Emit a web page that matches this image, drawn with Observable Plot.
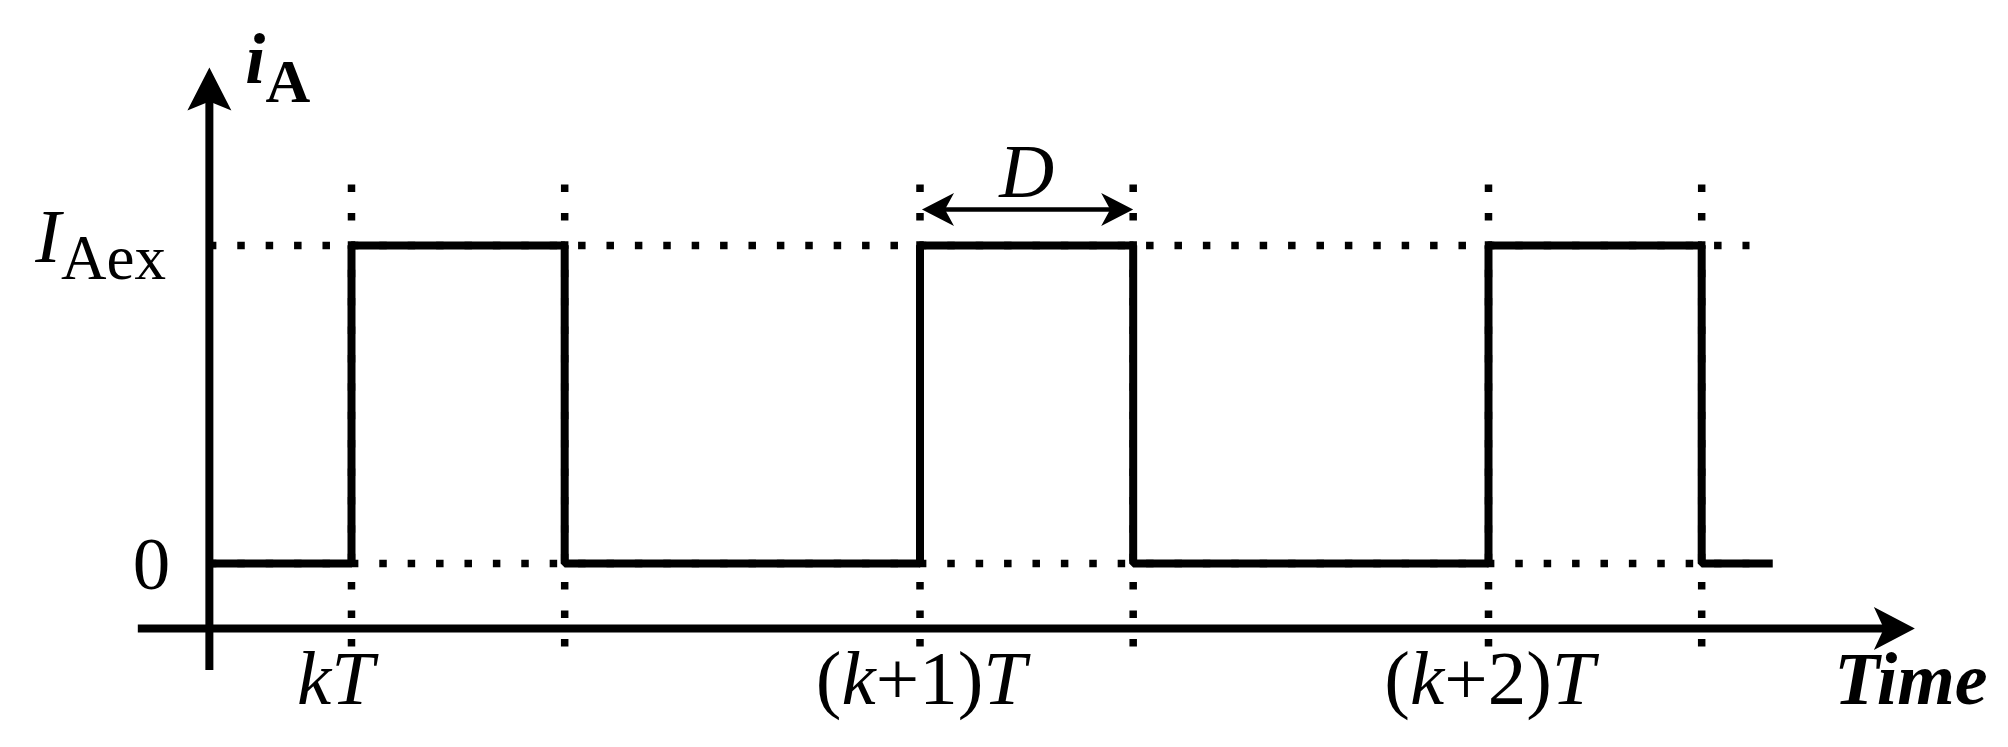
<!DOCTYPE html>
<html><head><meta charset="utf-8">
<script src="https://cdn.jsdelivr.net/npm/d3@7"></script>
<script src="https://cdn.jsdelivr.net/npm/@observablehq/plot@0.6"></script>
<style>html,body{margin:0;padding:0;background:#fff}svg{display:block}</style>
</head><body><div id="chart"></div>
<script>
// Time in units of the period T (kT = 1); current in units of I_Aex
const periodStarts = [1, 2, 3];
const periodLabels = ["kT", "(k+1)T", "(k+2)T"];
const dutyD = 0.375;
const edgeTimes  = [0.75, 1, 1.375, 2, 2.375, 3, 3.375, 3.5];
const edgeLevels = [0,    1, 0,     1, 0,     1, 0,     0];
const guideTimes = [1, 1.375, 2, 2.375, 3, 3.375];
const levelValues = [0, 1];
const levelLabels = ["0", "IAex"];
const yAxisTime = 0.75;
const xAxisLevel = -0.2044;
const xAxisExtent = [0.625, 3.75];
const yAxisExtent = [-0.3365, 1.56];
const guideExtentX = [0.75, 3.46];
const guideExtentY = [1.1903, -0.264];
const dArrowLevel = 1.1132;
const yTitle = "iA";
const xTitle = "Time";
const dLabel = "D";

const serif = "'Liberation Serif','Times New Roman',Times,serif";
const signal = edgeTimes.map((t, i) => ({t, v: edgeLevels[i]}));
const ticks = periodStarts.map((t, i) => ({t, label: periodLabels[i]}));
const levels = levelValues.map((v, i) => ({v, label: levelLabels[i]}));

function head(dir, len, half, notch) {
  return {draw(ctx) {
    const p = (a, b) => dir === "right" ? [a, b] : dir === "left" ? [-a, b] : [b, -a];
    const pts = [p(0, 0), p(-len, -half), p(-notch, 0), p(-len, half)];
    ctx.moveTo(...pts[0]); for (const q of pts.slice(1)) ctx.lineTo(...q); ctx.closePath();
  }};
}

const dot = {strokeWidth: 7.5, strokeDasharray: "7.5 20.9", stroke: "black"};

const svg = Plot.plot({
  width: 2008, height: 747, margin: 0,
  x: {domain: [0.38259, 3.91469], axis: null},
  y: {domain: [-0.5786, 1.7704], axis: null},
  style: {fontFamily: serif, background: "white", color: "black"},
  marks: [
    Plot.ruleY(levelValues, {x1: guideExtentX[0], x2: guideExtentX[1], ...dot}),
    Plot.ruleX(guideTimes, {y1: guideExtentY[0], y2: guideExtentY[1], ...dot}),
    Plot.line(signal, {x: "t", y: "v", curve: "step-after", stroke: "black", strokeWidth: 8, strokeLinejoin: "miter", strokeLinecap: "butt"}),
    Plot.ruleY([xAxisLevel], {x1: xAxisExtent[0], x2: xAxisExtent[1] - 0.05, stroke: "black", strokeWidth: 8}),
    Plot.ruleX([yAxisTime], {y1: yAxisExtent[0], y2: yAxisExtent[1] - 0.08, stroke: "black", strokeWidth: 8}),
    Plot.dot([{t: xAxisExtent[1], v: xAxisLevel}], {x: "t", y: "v", r: 1, symbol: head("right", 41, 21.5, 31), fill: "black", stroke: "none"}),
    Plot.dot([{t: yAxisTime, v: yAxisExtent[1]}], {x: "t", y: "v", r: 1, symbol: head("up", 43, 22, 34), fill: "black", stroke: "none"}),
    // D duration arrow
    Plot.ruleY([dArrowLevel], {x1: periodStarts[1] + 0.02, x2: periodStarts[1] + dutyD - 0.02, stroke: "black", strokeWidth: 4.5}),
    Plot.dot([{t: periodStarts[1] + dutyD, v: dArrowLevel}], {x: "t", y: "v", r: 1, symbol: head("right", 32, 16.5, 23), fill: "black", stroke: "none"}),
    Plot.dot([{t: periodStarts[1], v: dArrowLevel}], {x: "t", y: "v", r: 1, symbol: head("left", 32, 16.5, 23), fill: "black", stroke: "none", dx: 2}),
    Plot.text([{t: periodStarts[1] + dutyD / 2, v: dArrowLevel}], {x: "t", y: "v", text: () => dLabel, fontStyle: "italic", fontSize: 76, textAnchor: "middle", lineAnchor: "bottom", dy: -12}),
    // level labels
    Plot.text(levels.filter(d => d.v === 0), {x: yAxisTime, y: "v", text: "label", textAnchor: "end", lineAnchor: "bottom", dx: -39, dy: 25, fontSize: 75}),
    Plot.text(levels.filter(d => d.v === 1), {x: yAxisTime, y: "v", text: "label", textAnchor: "start", lineAnchor: "bottom", dx: -174, dy: 17, fontSize: 77}),
    // tick labels
    Plot.text(ticks.slice(0, 1), {x: "t", y: xAxisLevel, text: "label", textAnchor: "middle", lineAnchor: "bottom", dx: -16, dy: 75, fontSize: 77}),
    Plot.text(ticks.slice(1), {x: "t", y: xAxisLevel, text: "label", textAnchor: "middle", lineAnchor: "bottom", dx: 1, dy: 75, fontSize: 77}),
    // axis titles
    Plot.text([{t: xAxisExtent[1], v: xAxisLevel}], {x: "t", y: "v", text: () => xTitle, fontWeight: "bold", fontStyle: "italic", fontSize: 74, textAnchor: "middle", lineAnchor: "bottom", dx: -4, dy: 75}),
    Plot.text([{t: yAxisTime, v: yAxisExtent[1]}], {x: "t", y: "v", text: () => yTitle, fontWeight: "bold", fontSize: 72, textAnchor: "start", lineAnchor: "bottom", dx: 36, dy: 16})
  ]
});

// mixed styles (italic letters, subscripts) as tspans
const ns = "http://www.w3.org/2000/svg";
function rebuild(el, parts) {
  el.textContent = "";
  for (const p of parts) {
    const ts = document.createElementNS(ns, "tspan");
    ts.textContent = p.s;
    if (p.style) ts.setAttribute("font-style", p.style);
    if (p.size) ts.setAttribute("font-size", p.size);
    if (p.dy) ts.setAttribute("dy", p.dy);
    el.appendChild(ts);
  }
}
svg.querySelectorAll("text").forEach(el => {
  const s = el.textContent;
  if (periodLabels.includes(s)) {
    rebuild(el, [...s].map(c => ({s: c, style: /[kT]/.test(c) ? "italic" : "normal"})));
  } else if (s === "IAex") {
    rebuild(el, [{s: "I", style: "italic"}, {s: "Aex", style: "normal", size: 63, dy: 17}]);
  } else if (s === "iA") {
    rebuild(el, [{s: "i", style: "italic"}, {s: "A", style: "normal", size: 62, dy: 19}]);
  }
});
document.getElementById("chart").appendChild(svg);
</script>
</body></html>
